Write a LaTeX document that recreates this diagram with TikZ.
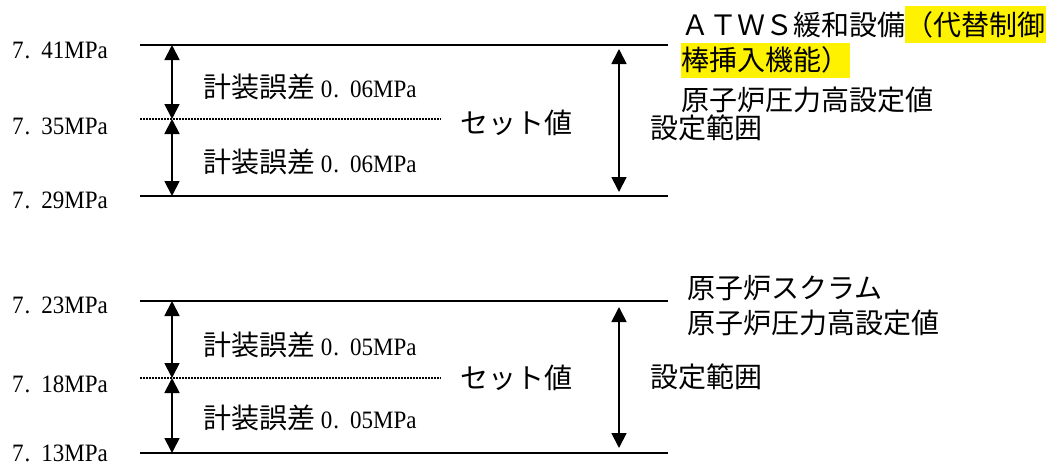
\documentclass[tikz,border=0pt]{standalone}
\usepackage{fontspec}
\setmainfont{Liberation Serif}[FakeStretch=0.92]
\newfontfamily\jp{Noto Sans CJK JP}
\usetikzlibrary{arrows.meta}
\tikzset{
  level/.style={line width=2pt},
  setline/.style={line width=1.5pt, dash pattern=on 1.5pt off 1.5pt},
  dimarrow/.style={line width=1.8pt, {Triangle[width=15pt,length=15pt]}-{Triangle[width=15pt,length=15pt]}},
  lab/.style={anchor=base west, inner sep=0pt, font=\fontsize{25}{28}\selectfont},
  jlab/.style={anchor=base west, inner sep=0pt, font=\fontsize{28}{32}\selectfont\jp},
  hl/.style={fill=yellow, draw=none}
}
\newcommand{\mpa}[2]{#1\kern1pt.\kern11pt #2MPa}
\newcommand{\keisou}{{\jp\fontsize{28}{32}\selectfont 計装誤差}}
\begin{document}
\begin{tikzpicture}[x=1pt,y=-1pt]
\useasboundingbox (0,0) rectangle (1053,466);
% highlights
\fill[hl] (905,6) rectangle (1046,43);
\fill[hl] (681,43) rectangle (850,78);

% ===== top group =====
\coordinate (t1l) at (140,45);  \coordinate (t1r) at (668,45);
\coordinate (t2l) at (140,119); \coordinate (t2r) at (441,119);
\coordinate (t3l) at (140,196); \coordinate (t3r) at (668,196);
\draw[level] (t1l) -- (t1r);
\draw[setline] (t2l) -- (t2r);
\draw[level] (t3l) -- (t3r);
\coordinate (ta1) at (172,45); \coordinate (ta2) at (172,119); \coordinate (ta3) at (172,196);
\draw[dimarrow] (ta1) -- (ta2);
\draw[dimarrow] (ta2) -- (ta3);
\coordinate (tb1) at (619,49); \coordinate (tb2) at (619,192);
\draw[dimarrow] (tb1) -- (tb2);

\node[lab] (tv1) at (12,58) {\mpa{7}{41}};
\node[lab] (tv2) at (12,134) {\mpa{7}{35}};
\node[lab] (tv3) at (12,208) {\mpa{7}{29}};
\node[lab] (te1) at (203,97) {\keisou{} \mpa{0}{06}};
\node[lab] (te2) at (203,172) {\keisou{} \mpa{0}{06}};
\node[jlab] (tset) at (460,133) {セット値};
\node[jlab] (trng) at (650,138) {設定範囲};
\node[jlab] (tt1) at (681,35) {ＡＴＷＳ緩和設備（代替制御};
\node[jlab] (tt2) at (681,70) {棒挿入機能）};
\node[jlab] (tt3) at (681,110) {原子炉圧力高設定値};

% ===== bottom group =====
\coordinate (b1l) at (140,301); \coordinate (b1r) at (668,301);
\coordinate (b2l) at (140,378); \coordinate (b2r) at (441,378);
\coordinate (b3l) at (140,453); \coordinate (b3r) at (668,453);
\draw[level] (b1l) -- (b1r);
\draw[setline] (b2l) -- (b2r);
\draw[level] (b3l) -- (b3r);
\coordinate (ba1) at (172,301); \coordinate (ba2) at (172,378); \coordinate (ba3) at (172,453);
\draw[dimarrow] (ba1) -- (ba2);
\draw[dimarrow] (ba2) -- (ba3);
\coordinate (bb1) at (619,307); \coordinate (bb2) at (619,448);
\draw[dimarrow] (bb1) -- (bb2);

\node[lab] (bv1) at (12,313) {\mpa{7}{23}};
\node[lab] (bv2) at (12,392) {\mpa{7}{18}};
\node[lab] (bv3) at (12,461) {\mpa{7}{13}};
\node[lab] (be1) at (203,355) {\keisou{} \mpa{0}{05}};
\node[lab] (be2) at (203,428) {\keisou{} \mpa{0}{05}};
\node[jlab] (bset) at (460,388) {セット値};
\node[jlab] (brng) at (650,387) {設定範囲};
\node[jlab] (bt1) at (687,298) {原子炉スクラム};
\node[jlab] (bt2) at (687,333) {原子炉圧力高設定値};
\end{tikzpicture}
\end{document}
